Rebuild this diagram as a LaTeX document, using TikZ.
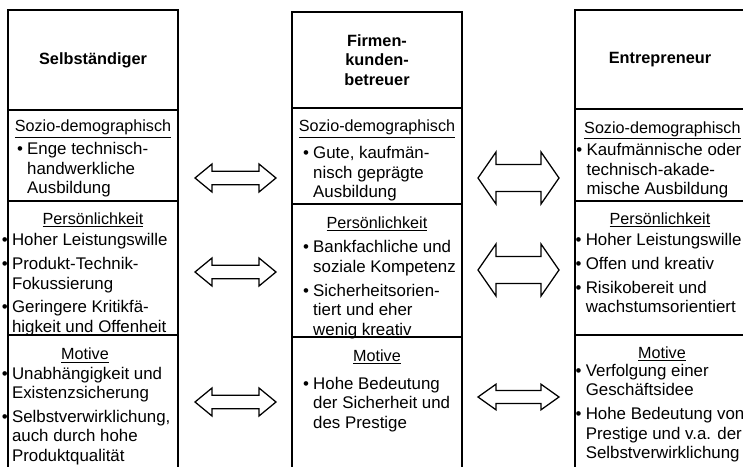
\documentclass[tikz,border=0pt]{standalone}
\usepackage{fontspec}
\setmainfont{Liberation Sans}
\usetikzlibrary{calc, positioning}

\newcommand{\ueber}[1]{\underline{#1}}
\newcommand{\pkt}{\textbullet}
\newcommand{\punkte}[1]{\begin{tabular}[t]{@{}l@{\hspace{3pt}}l@{}}#1\end{tabular}}
% #1,#2: Spitzen; #3: Kopflaenge; #4: halbe Kopfbreite; #5: halbe Schaftbreite
\newcommand{\doppelpfeil}[5]{%
  \draw[pfeil] (#1) -- ++(#3,#4) -- ++(0,{#5-#4}) -- ($(#2)+(-#3,#5)$) -- ++(0,{#4-#5})
    -- (#2) -- ++(-#3,-#4) -- ++(0,{#4-#5}) -- ($(#1)+(#3,-#5)$) -- ++(0,{#5-#4}) -- cycle;}

\begin{document}
\begin{tikzpicture}[
    kopf/.style={draw, line width=0.8pt, minimum width=4.25cm, outer sep=0pt,
                 align=center, font=\fontsize{11.6}{13.9}\selectfont\bfseries},
    teil/.style={draw, line width=0.8pt, minimum width=4.25cm, outer sep=0pt},
    ueberschrift/.style={anchor=base, inner sep=0pt, font=\fontsize{11.5}{13.9}\selectfont},
    liste/.style={anchor=base west, inner sep=0pt, font=\fontsize{12}{13.9}\selectfont},
    pfeil/.style={line width=0.9pt, fill=white}
  ]
  \useasboundingbox (0,0) rectangle (18.575,11.65);
  \clip (0,0) rectangle (18.575,11.65);

  % Selbstaendiger
  \node[kopf, minimum height=2.5cm] (kopfL) at (2.325,10.15) {Selbständiger};
  \node[teil, minimum height=2.275cm, below=0pt of kopfL] (sozL) {};
  \node[teil, minimum height=3.35cm, below=0pt of sozL] (persL) {};
  \node[teil, minimum height=3.775cm, below=0pt of persL] (motL) {};

  \node[ueberschrift] (usozL) at ($(sozL.north)+(0,-0.55)$) {\ueber{Sozio-demographisch}};
  \node[liste] (lsozL) at ($(sozL.north west)+(0.22,-1.12)$)
    {\punkte{\pkt & Enge technisch-\\ & handwerkliche\\ & Ausbildung}};
  \node[ueberschrift] (upersL) at ($(persL.north)+(0,-0.575)$) {\ueber{Persönlichkeit}};
  \node[liste] (lpersL) at ($(persL.north west)+(-0.16,-1.12)$)
    {\punkte{\pkt & Hoher Leistungswille\\[3pt]
             \pkt & Produkt-Technik-\\ & Fokussierung\\[3pt]
             \pkt & Geringere Kritikfä-\\ & higkeit und Offenheit}};
  \node[ueberschrift] (umotL) at ($(motL.north)+(-0.2,-0.62)$) {\ueber{Motive}};
  \node[liste] (lmotL) at ($(motL.north west)+(-0.16,-1.1)$)
    {\punkte{\pkt & Unabhängigkeit und\\ & Existenzsicherung\\[3pt]
             \pkt & Selbstverwirklichung,\\ & auch durch hohe\\ & Produktqualität}};

  % Firmenkundenbetreuer
  \node[kopf, minimum height=2.4cm] (kopfM) at (9.425,10.15) {Firmen-\\kunden-\\betreuer};
  \node[teil, minimum height=2.4cm, below=0pt of kopfM] (sozM) {};
  \node[teil, minimum height=3.325cm, below=0pt of sozM] (persM) {};
  \node[teil, minimum height=3.725cm, below=0pt of persM] (motM) {};

  \node[ueberschrift] (usozM) at ($(sozM.north)+(0,-0.6)$) {\ueber{Sozio-demographisch}};
  \node[liste] (lsozM) at ($(sozM.north west)+(0.27,-1.27)$)
    {\punkte{\pkt & Gute, kaufmän-\\ & nisch geprägte\\ & Ausbildung}};
  \node[ueberschrift] (upersM) at ($(persM.north)+(0,-0.6)$) {\ueber{Persönlichkeit}};
  \node[liste] (lpersM) at ($(persM.north west)+(0.27,-1.22)$)
    {\punkte{\pkt & Bankfachliche und\\ & soziale Kompetenz\\[3pt]
             \pkt & Sicherheitsorien-\\ & tiert und eher\\ & wenig kreativ}};
  \node[ueberschrift] (umotM) at ($(motM.north)+(0,-0.6)$) {\ueber{Motive}};
  \node[liste] (lmotM) at ($(motM.north west)+(0.27,-1.3)$)
    {\punkte{\pkt & Hohe Bedeutung\\ & der Sicherheit und\\ & des Prestige}};

  % Entrepreneur
  \node[kopf, minimum height=2.475cm] (kopfR) at (16.5,10.1625) {Entrepreneur};
  \node[teil, minimum height=2.3cm, below=0pt of kopfR] (sozR) {};
  \node[teil, minimum height=3.35cm, below=0pt of sozR] (persR) {};
  \node[teil, minimum height=3.775cm, below=0pt of persR] (motR) {};

  \node[ueberschrift] (usozR) at ($(sozR.north)+(0.06,-0.6)$) {\ueber{Sozio-demographisch}};
  \node[liste] (lsozR) at ($(sozR.north west)+(0.03,-1.17)$)
    {\punkte{\pkt & Kaufmännische oder\\ & technisch-akade-\\ & mische Ausbildung}};
  \node[ueberschrift] (upersR) at ($(persR.north)+(0,-0.575)$) {\ueber{Persönlichkeit}};
  \node[liste] (lpersR) at ($(persR.north west)+(0.01,-1.12)$)
    {\punkte{\pkt & Hoher Leistungswille\\[3pt]
             \pkt & Offen und kreativ\\[3pt]
             \pkt & Risikobereit und\\ & wachstumsorientiert}};
  \node[ueberschrift] (umotR) at ($(motR.north)+(0.05,-0.575)$) {\ueber{Motive}};
  \node[liste] (lmotR) at ($(motR.north west)+(0.01,-1.03)$)
    {\punkte{\pkt & Verfolgung einer\\ & Geschäftsidee\\[3pt]
             \pkt & Hohe Bedeutung von\\ & Prestige und v.a. der\\ & Selbstverwirklichung}};

  % Doppelpfeile
  \coordinate (pa1) at (4.875,7.2);   \coordinate (pb1) at (6.9,7.2);
  \coordinate (pa2) at (4.875,4.85);  \coordinate (pb2) at (6.9,4.85);
  \coordinate (pa3) at (4.875,1.6);   \coordinate (pb3) at (6.9,1.6);
  \coordinate (pc1) at (11.95,7.2);   \coordinate (pd1) at (13.975,7.2);
  \coordinate (pc2) at (11.95,4.9);   \coordinate (pd2) at (13.975,4.9);
  \coordinate (pc3) at (11.95,1.725); \coordinate (pd3) at (13.975,1.725);

  \doppelpfeil{pa1}{pb1}{0.425}{0.35}{0.17}
  \doppelpfeil{pa2}{pb2}{0.425}{0.35}{0.17}
  \doppelpfeil{pa3}{pb3}{0.425}{0.35}{0.17}
  \doppelpfeil{pc1}{pd1}{0.45}{0.65}{0.34}
  \doppelpfeil{pc2}{pd2}{0.45}{0.65}{0.34}
  \doppelpfeil{pc3}{pd3}{0.45}{0.32}{0.16}
\end{tikzpicture}
\end{document}
